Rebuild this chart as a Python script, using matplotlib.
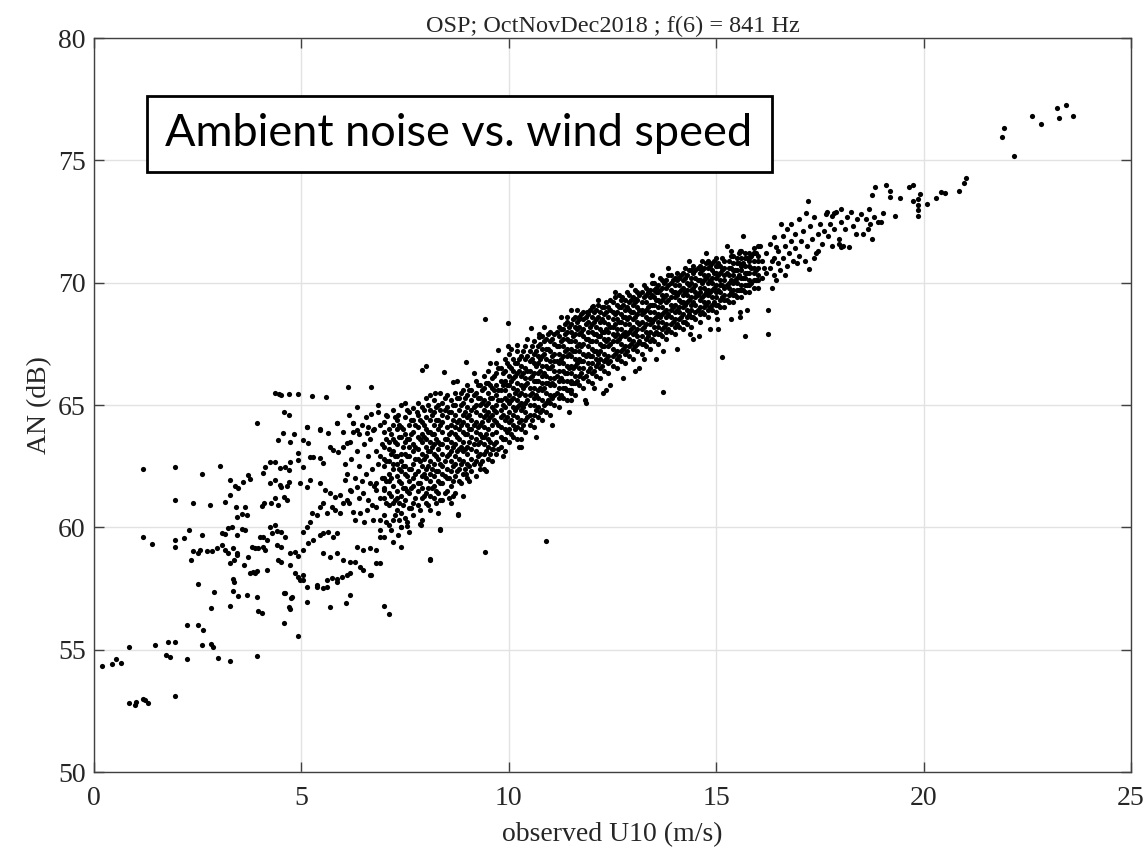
import matplotlib
matplotlib.use("Agg")
import matplotlib.pyplot as plt
from matplotlib.patches import Rectangle

# ---------------- data ----------------
# calm winds (U10 < 2 m/s): (U10, AN)
calm_pts = [(0.2,54.35),(0.43,54.4),(0.53,54.6),(0.64,54.45),(0.85,55.1),(0.85,52.8),
            (1.0,52.75),(1.02,52.85),(1.18,53.0),(1.24,52.95),(1.3,52.8),(1.95,53.1),
            (1.17,62.4),(1.95,62.45),(1.95,61.1),(1.17,59.6),(1.4,59.3),(1.95,59.5),
            (1.95,59.2),(1.46,55.2),(1.78,55.3),(1.95,55.3),(1.73,54.8),(1.83,54.7)]

# light winds (2-7 m/s), scattered cloud
light_pts = [(2.23,54.6),(2.23,56.0),(2.5,56.0),(2.62,55.8),(2.6,55.2),(2.83,55.22),(2.87,55.1),
             (2.99,54.65),(3.27,54.55),(3.93,54.75),(4.93,55.55),(4.59,56.1),(2.5,57.7),(2.9,57.35),
             (2.83,56.7),(3.27,56.8),(3.95,56.6),(4.05,56.5),(4.7,56.75),(4.72,56.65),(4.76,57.1),
             (4.59,57.3),(5.14,56.95),(5.69,56.75),(6.07,56.9),(7.0,56.8),(7.12,56.45),
             (2.29,59.89),(2.18,59.55),(2.39,61.01),(2.61,62.17),(2.61,59.69),(2.34,58.67),(2.39,59.05),
             (2.5,58.96),(2.56,59.07),(2.73,59.05),(2.84,59.05),(2.96,59.14),(3.08,59.28),(3.16,59.07),
             (3.24,58.96),(3.36,59.14),(3.44,58.94),(2.8,60.91),(3.04,62.52),(3.16,61.05),(3.28,61.32),
             (3.28,61.93),(3.4,61.69),(3.48,61.59),(3.6,61.87),(3.72,62.14),(3.76,61.96),(3.08,59.75),
             (3.16,59.73),(3.24,59.96),(3.32,60.03),(3.44,59.69),(3.56,59.93),(3.64,59.89),(3.44,60.44),
             (3.56,60.54),(3.68,60.5),(3.42,60.84),(3.64,60.84),(3.28,58.53),(3.38,58.66),(3.44,58.87),
             (3.62,58.46),(3.72,58.8),(3.84,58.19),(3.76,58.12),(3.92,58.23),(3.36,57.89),(3.38,57.78),
             (3.36,57.41),(3.48,57.21),(3.68,57.23),(3.92,57.17),(3.8,59.21),(3.88,59.14),(3.96,59.14),
             (4.08,59.21),(4.12,59.07),(4.0,59.62),(4.08,59.62),(4.16,59.48),(4.28,59.75),(4.24,60.03),
             (4.36,60.1),(4.4,59.86),(4.52,59.82),(4.04,60.87),(4.1,60.98),(4.26,60.98),(4.36,61.18),
             (4.44,60.91),(4.57,61.23),(4.65,61.12),(4.52,61.66),(4.65,61.69),(4.69,61.87),(4.24,61.8),
             (4.36,61.93),(4.48,61.73),(4.12,62.45),(4.24,62.68),(4.36,62.68),(4.48,62.41),(4.6,62.45),
             (4.73,62.68),(4.69,62.34),(4.08,62.21),(4.44,63.57),(4.73,63.5),(4.56,63.84),(4.81,63.81),
             (5.05,63.57),(5.17,63.43),(5.13,64.11),(5.45,63.98),(5.65,63.84),(5.85,64.25),(6.01,63.91),
             (6.25,64.25),(6.33,63.98),(6.57,63.84),(6.73,63.98),(4.93,63.02),(4.93,62.75),(5.05,62.48),
             (5.21,62.89),(5.29,62.86),(5.45,62.82),(5.53,62.61),(5.69,63.3),(5.77,63.16),(5.89,63.09),
             (6.01,63.3),(6.09,63.43),(6.17,63.5),(4.4,59.28),(4.52,59.21),(4.6,59.62),(4.73,58.94),
             (4.85,59.0),(4.93,58.84),(5.05,59.07),(5.17,59.35),(5.29,59.48),(5.45,59.69),(5.53,59.75),
             (5.65,59.82),(5.77,59.62),(5.85,59.75),(4.52,58.6),(4.44,58.66),(4.73,58.46),(4.85,58.12),
             (4.93,57.98),(5.05,57.85),(5.13,57.57),(5.37,57.64),(5.53,57.51),(5.61,57.85),(5.73,57.91),
             (5.85,57.78),(5.97,57.98),(6.09,58.05),(6.17,58.12),(6.29,58.6),(6.41,58.39),(6.49,58.26),
             (6.65,58.05),(6.81,58.53),(5.05,59.82),(5.14,60.03),(5.21,60.23),(5.25,60.57),(5.37,60.5),
             (5.45,60.84),(5.53,60.98),(5.61,60.57),(5.73,60.84),(5.81,60.71),(5.93,60.57),(6.01,60.98),
             (6.09,61.12),(6.25,60.64),(6.41,60.57),(6.57,60.71),(6.73,60.3),(6.81,60.84),(6.9,60.3),
             (4.97,61.8),(5.13,61.66),(5.21,61.93),(5.45,61.8),(5.57,61.53),(5.69,61.39),(5.81,61.25),
             (5.93,61.32),(6.05,61.93),(6.17,61.53),(6.33,61.66),(6.49,61.39),(6.65,61.8),(6.81,61.53),
             (6.98,61.53),(5.53,58.94),(5.69,58.8),(5.85,58.94),(6.01,58.67),(6.17,58.6),(6.33,59.21),
             (6.49,59.07),(6.65,59.14),(6.81,59.07),(6.9,59.62),(6.9,59.89),
             (6.1,62.2),(6.2,62.8),(6.3,62.0),(6.35,63.1),(6.4,62.5),(6.45,61.9),(6.5,63.4),(6.55,62.2),
             (6.6,62.9),(6.65,63.6),(6.7,62.4),(6.75,61.7),(6.8,63.1),(6.85,62.6),(6.9,64.2),(6.95,62.0),
             (6.5,60.2),(6.6,61.1),(6.7,60.9),(6.8,61.8),(6.9,61.2),(6.2,61.5),(6.3,60.3),(6.4,63.8),
             (6.55,64.5),(6.75,64.0),(6.85,64.7),(6.05,62.6),(6.15,61.0),(6.25,63.9),(6.45,64.2),
             (6.95,63.4),(6.6,64.1),(6.9,62.9),(6.4,61.2),(6.15,64.6),(6.85,65.0),(6.35,64.9),
             (4.37,65.5),(4.45,65.45),(4.5,65.4),(4.71,65.45),(4.93,65.47),(5.25,65.38),(5.59,65.34),
             (6.13,65.72),(6.68,65.75),(4.58,64.7),(4.71,64.59),(3.94,64.25),(5.85,64.28),(5.14,64.11),
             (5.45,64.0),(6.25,64.25),(6.68,64.63),(6.68,58.05),(6.17,57.23),(5.85,57.89),(5.61,57.57),
             (5.37,57.57),(5.05,58.05),(4.97,57.85),(4.77,57.16),(4.6,57.3),(4.16,58.25),(3.88,58.12)]

# dense band, 7-16 m/s: one list of AN values per U10 column
band_u10 = [7.0,7.1,7.2,7.3,7.4,7.5,7.6,7.7,7.8,7.9,8.0,8.1,8.2,8.3,8.4,8.5,8.6,8.7,8.8,8.9,
            9.0,9.1,9.2,9.3,9.4,9.5,9.6,9.7,9.8,9.9,10.0,10.1,10.2,10.3,10.4,10.5,10.6,10.7,10.8,10.9,
            11.0,11.1,11.2,11.3,11.4,11.5,11.6,11.7,11.8,11.9,12.0,12.1,12.2,12.3,12.4,12.5,12.6,12.7,
            12.8,12.9,13.0,13.1,13.2,13.3,13.4,13.5,13.6,13.7,13.8,13.9,14.0,14.1,14.2,14.3,14.4,14.5,
            14.6,14.7,14.8,14.9,15.0,15.1,15.2,15.3,15.4,15.5,15.6,15.7,15.8,15.9,16.0]
band_an = [
    [59.6,60.5,61.2,61.6,62.0,62.5,62.8,63.3,63.9,64.3],
    [60.1,60.9,61.4,61.9,62.2,62.7,63.2,63.5,64.0],
    [59.4,60.3,61.0,61.7,62.4,62.6,63.1,63.6,64.2,64.8],
    [60.7,61.2,61.5,62.1,62.6,62.9,63.4,64.0,64.4],
    [60.0,60.6,61.3,61.8,62.3,62.7,63.0,63.7,64.1,65.0],
    [60.4,61.1,61.6,62.2,62.5,63.0,63.5,63.8,64.5],
    [59.8,60.8,61.4,61.9,62.4,62.9,63.3,63.6,64.2,64.7],
    [60.5,61.0,61.7,62.0,62.6,63.1,63.4,63.9,64.4],
    [60.9,61.5,61.8,62.3,62.8,63.2,63.7,64.1,64.6,65.1],
    [60.3,61.2,61.6,62.1,62.5,63.0,63.5,63.8,64.3,64.9],
    [61.0,61.4,62.0,62.4,62.9,63.3,63.6,64.0,64.5],
    [60.7,61.3,61.9,62.2,62.7,63.1,63.5,63.9,64.4,64.8],
    [61.2,61.7,62.1,62.6,63.0,63.4,63.8,64.2,64.7,65.2],
    [60.6,61.4,61.9,62.3,62.8,63.2,63.5,64.0,64.4,65.0],
    [61.1,61.8,62.2,62.5,63.0,63.4,63.9,64.3,64.6,65.1],
    [61.5,62.0,62.4,62.9,63.3,63.6,64.1,64.5,64.9,65.4],
    [61.0,61.7,62.3,62.7,63.1,63.5,63.9,64.2,64.7,65.2],
    [61.4,62.1,62.6,62.9,63.4,63.8,64.1,64.6,65.0,65.5],
    [61.9,62.4,62.8,63.2,63.6,64.0,64.4,64.8,65.3],
    [61.3,62.2,62.7,63.1,63.5,63.9,64.3,64.6,65.1,65.6],
    [62.0,62.6,63.0,63.3,63.8,64.2,64.5,64.9,65.4,65.8],
    [62.3,62.8,63.2,63.7,64.0,64.4,64.8,65.2,65.6],
    [62.1,62.7,63.1,63.6,63.9,64.3,64.7,65.0,65.5,66.0],
    [62.6,63.0,63.5,63.8,64.2,64.6,65.0,65.3,65.8],
    [62.4,63.0,63.4,63.7,64.1,64.5,64.8,65.2,65.7,66.2],
    [62.8,63.3,63.6,64.0,64.4,64.7,65.1,65.5,65.9,66.4],
    [62.7,63.2,63.8,64.2,64.6,64.9,65.3,65.7,66.1],
    [63.0,63.5,63.9,64.3,64.7,65.0,65.4,65.8,66.3,66.7],
    [63.3,63.7,64.1,64.5,64.8,65.2,65.6,66.0,66.5],
    [63.1,63.6,64.0,64.4,64.9,65.3,65.6,66.0,66.4,66.9],
    [63.5,64.0,64.3,64.7,65.1,65.4,65.8,66.2,66.6,67.1],
    [63.7,64.2,64.6,64.9,65.3,65.7,66.1,66.4,66.9],
    [63.6,64.1,64.5,64.9,65.2,65.6,65.9,66.3,66.7,67.2],
    [64.0,64.4,64.8,65.1,65.5,65.8,66.2,66.6,67.0],
    [63.9,64.4,64.7,65.1,65.4,65.8,66.1,66.5,66.9,67.4],
    [64.2,64.6,65.0,65.4,65.7,66.1,66.4,66.8,67.2],
    [64.1,64.6,65.0,65.3,65.7,66.0,66.3,66.7,67.1,67.6],
    [64.5,64.9,65.3,65.6,66.0,66.3,66.7,67.0,67.4],
    [64.4,64.8,65.2,65.6,65.9,66.2,66.6,67.0,67.3,67.8],
    [64.7,65.1,65.5,65.9,66.2,66.6,66.9,67.3,67.7],
    [64.6,65.1,65.4,65.8,66.1,66.5,66.8,67.2,67.6,68.0],
    [65.0,65.4,65.8,66.1,66.4,66.8,67.1,67.5,67.9],
    [64.9,65.3,65.7,66.0,66.4,66.7,67.1,67.4,67.8,68.2],
    [65.3,65.7,66.0,66.4,66.7,67.0,67.4,67.7,68.1],
    [65.2,65.6,66.0,66.3,66.6,67.0,67.3,67.7,68.0,68.4],
    [65.5,65.9,66.3,66.6,67.0,67.3,67.6,68.0,68.3],
    [65.4,65.9,66.2,66.6,66.9,67.2,67.6,67.9,68.2,68.6],
    [65.8,66.2,66.5,66.9,67.2,67.5,67.9,68.2,68.5],
    [65.7,66.1,66.5,66.8,67.1,67.5,67.8,68.1,68.5,68.8],
    [66.0,66.4,66.7,67.1,67.4,67.7,68.0,68.4,68.7],
    [65.9,66.3,66.7,67.0,67.3,67.6,68.0,68.3,68.6,69.0],
    [66.2,66.6,66.9,67.2,67.6,67.9,68.2,68.5,68.9],
    [66.1,66.5,66.9,67.2,67.5,67.8,68.1,68.4,68.8],
    [66.4,66.8,67.1,67.4,67.7,68.0,68.4,68.7,69.0],
    [66.3,66.7,67.0,67.4,67.7,68.0,68.3,68.6,69.0],
    [66.6,67.0,67.3,67.6,67.9,68.2,68.5,68.8,69.2],
    [66.5,66.9,67.2,67.6,67.9,68.1,68.5,68.8,69.1],
    [66.8,67.2,67.5,67.8,68.1,68.4,68.7,69.0,69.3],
    [66.7,67.1,67.4,67.8,68.0,68.3,68.6,68.9,69.3],
    [67.0,67.4,67.7,68.0,68.3,68.6,68.9,69.2,69.5],
    [66.9,67.3,67.6,67.9,68.2,68.5,68.8,69.1,69.4],
    [67.2,67.5,67.8,68.1,68.4,68.7,69.0,69.3,69.6],
    [67.1,67.5,67.8,68.1,68.4,68.7,68.9,69.2,69.6],
    [67.4,67.7,68.0,68.3,68.6,68.9,69.2,69.5,69.8],
    [67.3,67.6,68.0,68.3,68.5,68.8,69.1,69.4,69.7],
    [67.6,67.9,68.2,68.5,68.8,69.1,69.4,69.7,70.0],
    [67.5,67.9,68.2,68.4,68.7,69.0,69.3,69.6,69.9],
    [67.8,68.1,68.4,68.7,69.0,69.3,69.5,69.8,70.1],
    [67.7,68.0,68.3,68.6,68.9,69.2,69.5,69.8,70.1],
    [68.0,68.3,68.6,68.9,69.1,69.4,69.7,70.0,70.3],
    [67.9,68.2,68.5,68.8,69.1,69.4,69.6,69.9,70.2],
    [68.2,68.5,68.8,69.0,69.3,69.6,69.9,70.2],
    [68.1,68.4,68.7,69.0,69.2,69.5,69.8,70.1,70.4],
    [68.3,68.6,68.9,69.2,69.5,69.7,70.0,70.3],
    [68.2,68.6,68.9,69.1,69.4,69.7,70.0,70.2,70.5],
    [68.5,68.8,69.1,69.4,69.6,69.9,70.2,70.5],
    [68.4,68.7,69.0,69.3,69.6,69.8,70.1,70.4,70.7],
    [68.7,69.0,69.2,69.5,69.8,70.1,70.3,70.6],
    [68.6,68.9,69.2,69.5,69.7,70.0,70.3,70.6,70.9],
    [68.9,69.1,69.4,69.7,70.0,70.2,70.5,70.8],
    [68.8,69.1,69.4,69.6,69.9,70.2,70.4,70.7,71.0],
    [69.0,69.3,69.6,69.9,70.1,70.4,70.7],
    [69.0,69.3,69.5,69.8,70.1,70.3,70.6,70.9],
    [69.2,69.5,69.8,70.0,70.3,70.6,70.9],
    [69.2,69.5,69.7,70.0,70.3,70.5,70.8,71.1],
    [69.4,69.7,70.0,70.2,70.5,70.8,71.0],
    [69.4,69.7,69.9,70.2,70.5,70.7,71.0,71.3],
    [69.6,69.9,70.2,70.4,70.7,71.0,71.2],
    [69.6,69.9,70.1,70.4,70.7,70.9,71.2],
    [69.8,70.1,70.4,70.6,70.9,71.2,71.4],
    [69.8,70.1,70.3,70.6,70.9,71.1,71.5],
]

# dense band, in-between U10 columns
band2_u10 = [7.05,7.15,7.25,7.35,7.45,7.55,7.65,7.75,7.85,7.95,8.05,8.15,8.25,8.35,8.45,8.55,8.65,
             8.75,8.85,8.95,9.05,9.15,9.25,9.35,9.45,9.55,9.65,9.75,9.85,9.95,10.05,10.15,10.25,10.35,
             10.45,10.55,10.65,10.75,10.85,10.95,11.05,11.15,11.25,11.35,11.45,11.55,11.65,11.75,11.85,
             11.95,12.05,12.15,12.25,12.35,12.45,12.55,12.65,12.75,12.85,12.95,13.05,13.15,13.25,13.35,
             13.45,13.55,13.65,13.75,13.85,13.95,14.05,14.15,14.25,14.35,14.45,14.55,14.65,14.75,14.85,
             14.95,15.05,15.15,15.25,15.35,15.45,15.55,15.65,15.75,15.85,15.95]
band2_an = [
    [60.2,61.0,61.9,62.7,63.6,64.6],[59.9,61.3,62.0,63.0,63.8],[60.5,61.1,62.9,63.5,64.5],
    [60.3,61.0,61.9,62.4,63.7,64.2],[60.9,61.6,62.5,63.3,64.0],[60.2,61.5,62.1,62.9,63.6,64.8],
    [60.8,61.6,62.4,63.8,64.4],[61.2,62.2,62.8,63.3,64.2],[60.7,61.8,62.7,63.6,64.4],
    [61.3,62.2,62.8,63.7,64.2,64.8],[60.9,61.6,62.5,63.1,63.9,65.0],[61.6,62.4,63.3,63.8,64.6],
    [61.5,62.3,62.9,63.6,64.4,64.9],[61.8,62.6,63.4,64.2,64.8],[61.4,62.1,62.7,63.6,64.8,65.3],
    [61.2,62.0,63.0,63.8,64.7],[61.9,62.5,63.3,64.4,65.0],[62.3,63.1,63.7,64.3,65.3],
    [61.8,62.6,63.3,64.2,65.0,65.5],[62.4,63.2,63.8,64.7,65.3],[62.5,63.5,64.0,64.6,65.6],
    [62.6,63.4,64.2,64.9,65.4],[62.9,63.4,64.1,65.3,65.8],[62.7,63.7,64.3,65.1,65.6],
    [63.1,63.8,64.6,65.0,65.9],[63.0,63.5,64.5,65.3,65.8],[63.4,64.4,64.8,65.6,66.2],
    [63.2,64.2,65.2,65.6,66.5],[63.6,64.6,65.0,65.8,66.3],[63.9,64.5,65.2,65.8,66.7],
    [63.8,64.4,65.2,66.0,66.5],[64.0,64.8,65.5,66.2,66.7],[64.3,65.0,65.4,66.4,66.9],
    [64.2,64.9,65.7,66.3,67.2],[64.5,65.2,65.9,66.4,67.0],[64.4,65.5,66.2,66.9,67.4],
    [64.8,65.4,66.0,66.6,67.2],[64.7,65.7,66.4,66.9,67.5],[65.0,65.7,66.3,67.1,67.6],
    [65.2,65.9,66.5,67.3,67.9],[65.3,65.9,66.6,67.0,67.7],[65.5,66.2,66.8,67.4,68.0],
    [65.4,66.1,66.9,67.6,68.1],[65.7,66.3,67.2,67.9,68.3],[65.6,66.5,67.1,67.6,68.2],
    [65.9,66.5,67.2,67.8,68.5],[66.0,66.7,67.4,68.1,68.4],[66.3,66.8,67.4,68.0,68.7],
    [66.2,67.0,67.7,68.3,68.6],[66.5,67.0,67.6,68.2,68.9],[66.4,67.2,67.9,68.4,68.8],
    [66.7,67.1,67.8,68.6,69.1],[66.6,67.4,68.0,68.5,69.0],[66.9,67.6,68.1,68.8,69.2],
    [66.8,67.5,68.2,68.9,69.3],[67.1,67.8,68.3,68.7,69.4],[67.0,67.7,68.4,69.0,69.5],
    [67.3,67.9,68.6,69.1],[67.2,67.9,68.5,69.0,69.6],[67.5,68.1,68.8,69.3],
    [67.4,68.0,68.6,69.2,69.7],[67.6,68.3,68.9,69.5],[67.5,68.2,68.8,69.4,69.9],
    [67.8,68.5,69.0,69.6],[67.7,68.4,69.1,69.5,70.0],[68.0,68.6,69.3,69.8],
    [67.9,68.6,69.2,69.7,70.2],[68.2,68.8,69.4,70.0],[68.1,68.7,69.3,69.9,70.3],
    [68.4,69.0,69.6,70.1],[68.3,68.9,69.5,70.1,70.4],[68.6,69.2,69.7,70.3],
    [68.4,69.1,69.6,70.2,70.6],[68.7,69.3,69.9,70.5],[68.6,69.2,69.8,70.4,70.7],
    [68.9,69.5,70.1,70.6],[68.8,69.4,70.0,70.5,70.9],[69.1,69.6,70.2,70.8],
    [69.0,69.6,70.1,70.7],[69.2,69.8,70.4,70.9],[69.1,69.7,70.3,70.8],
    [69.4,69.9,70.5,71.0],[69.3,69.9,70.4],[69.6,70.1,70.6,71.1],[69.5,70.1,70.5],
    [69.7,70.3,70.8,71.2],[69.7,70.2,70.8],[69.9,70.4,71.0],[70.0,70.6,71.1],[70.1,70.5,71.2],
]

# points along the fuzzy edges of the band (7-16 m/s)
edge_pts = [(7.5,65.1),(7.9,66.43),(8.0,66.59),(8.44,66.36),(8.98,66.77),(9.75,67.25),(9.97,67.4),
            (10.2,67.45),(8.66,65.95),(8.0,65.3),(8.1,65.4),(8.22,65.5),(9.43,68.53),(9.97,68.36),
            (10.53,68.16),(10.74,67.9),(10.74,67.76),(11.4,68.6),(11.51,68.9),(11.69,68.6),(11.89,68.8),
            (12.04,69.05),(12.72,69.42),(13.06,69.35),(13.39,69.6),(13.54,69.6),(14.07,70.2),(14.59,70.6),
            (14.81,70.85),(15.03,70.7),(15.36,71.3),(15.58,71.3),(15.82,71.03),(15.92,71.2),
            (13.71,65.53),(13.04,66.4),(13.27,66.9),(13.71,67.2),(15.14,66.95),(15.7,67.84),(15.04,68.12),
            (14.59,67.83),(14.37,67.92),(15.57,68.8),(15.57,68.6),(15.03,68.5),(12.28,65.5),(12.06,65.68),
            (12.44,65.8),(11.51,65.2),(11.84,65.2),(11.51,65.6),(11.51,66.0),(10.29,63.6),(10.29,63.3),
            (9.63,63.2),(9.87,63.6),(9.31,62.4),(8.98,62.2),(8.77,60.5),(8.33,61.1),(8.33,59.9),(7.88,60.1),
            (9.42,59.0),(8.1,58.7),(10.9,59.45),(7.39,59.2),(7.34,59.7),(7.54,60.07),(7.4,60.0),(6.9,58.55),
            (8.11,58.65),(8.78,60.53),(7.87,60.12),(8.33,59.92),(7.06,64.55),(7.34,64.59),(7.68,64.86),
            (7.78,64.72),
            (8.25,61.0),(8.65,61.3),(9.05,61.9),(9.45,62.3),(9.85,62.9),(10.25,63.3),(10.65,63.7),
            (11.05,64.2),(11.45,64.7),(11.85,65.1),(12.35,65.6),(12.75,66.1),(13.15,66.5),(13.55,66.9),
            (14.05,67.3),(14.45,67.7),(14.85,68.1),(15.35,68.5),(15.75,68.9),
            (8.35,65.5),(8.75,66.0),(9.15,66.3),(9.55,66.7),(10.05,67.3),(10.45,67.7),(10.85,68.2),
            (11.25,68.6),(11.65,68.9),(12.15,69.3),(12.55,69.6),(12.95,69.9),(13.45,70.3),(13.85,70.6),
            (14.35,70.9),(14.75,71.2),(15.25,71.5),(15.65,71.9)]

# strong winds (16-21 m/s)
strong_pts = [(16.1,70.2),(16.1,70.9),(16.2,70.4),(16.2,71.2),(16.25,68.9),(16.25,67.9),(16.3,70.6),
              (16.3,71.6),(16.35,69.8),(16.4,70.3),(16.4,71.0),(16.45,71.45),(16.5,70.8),(16.5,71.3),
              (16.55,70.5),(16.6,71.0),(16.6,71.9),(16.65,71.5),(16.7,70.7),(16.7,72.2),(16.75,71.2),
              (16.8,71.7),(16.8,72.4),(16.85,70.9),(16.9,71.4),(16.9,72.0),(17.0,71.1),(17.0,72.6),
              (17.05,71.7),(17.1,72.1),(17.15,70.9),(17.2,71.5),(17.22,73.33),(17.24,70.55),(17.25,72.3),
              (17.3,71.8),(17.35,72.7),(17.4,71.2),(17.45,71.3),(17.45,72.0),(17.5,72.4),(17.55,71.6),
              (17.6,72.1),(17.65,72.8),(17.7,71.9),(17.75,72.4),(17.8,71.5),(17.85,72.2),(17.9,72.9),
              (17.95,71.8),(18.0,72.5),(18.0,73.0),(18.05,71.5),(18.1,72.2),(18.15,72.7),(18.2,71.47),
              (18.25,72.9),(18.3,72.3),(18.38,72.0),(18.4,72.6),(18.5,72.8),(18.55,72.0),(18.6,72.6),
              (18.65,72.18),(18.69,73.0),(18.7,72.4),(18.76,71.8),(18.76,73.6),(18.8,72.7),(18.82,73.9),
              (18.9,72.5),(18.98,72.5),(19.02,72.83),(19.09,73.98),(19.2,73.74),(19.2,73.51),(19.31,72.72),
              (19.42,73.45),(19.65,73.9),(19.75,74.0),(19.75,73.33),(19.86,73.43),(19.86,73.17),
              (19.86,72.97),(19.86,72.73),(19.92,73.62),(20.08,73.22),(20.31,73.45),(20.41,73.69),
              (20.51,73.65),(20.85,73.76),(20.97,74.06),(21.02,74.26),(17.66,72.9),(17.83,72.84),
              (17.8,72.73),(17.16,72.84),(16.57,72.4),(16.4,71.85),(17.97,71.57),(18.0,71.44),
              (16.15,70.6),(16.45,70.1),(16.95,70.8),(17.35,71.0),(16.05,71.5),(16.35,70.9),(16.65,70.3)]

# very strong winds (> 21 m/s)
gale_pts = [(21.9,75.95),(21.95,76.33),(22.17,75.17),(22.61,76.8),(22.83,76.47),(23.22,77.14),
            (23.27,76.74),(23.44,77.27),(23.6,76.83)]

title_text = "OSP; OctNovDec2018 ; f(6) = 841 Hz"
box_text = "Ambient noise vs. wind speed"
x_ticks = [0, 5, 10, 15, 20, 25]
y_ticks = [50, 55, 60, 65, 70, 75, 80]

# ---------------- assemble ----------------
u10, an = [], []
for pts in (calm_pts, light_pts, edge_pts, strong_pts, gale_pts):
    for x, y in pts:
        u10.append(x)
        an.append(y)
for xs, yss in ((band_u10, band_an), (band2_u10, band2_an)):
    for x, ys in zip(xs, yss):
        for y in ys:
            u10.append(x)
            an.append(y)

# ---------------- plot ----------------
plt.rcParams['font.family'] = ['Liberation Serif', 'DejaVu Serif']
fig = plt.figure(figsize=(11.48, 8.56), dpi=100)
ax = fig.add_axes([94/1148, 84/856, 1037/1148, 734/856])

ax.scatter(u10, an, s=14, c='k', linewidths=0, zorder=3)

ax.set_xlim(0, 25)
ax.set_ylim(50, 80)
ax.set_xticks(x_ticks)
ax.set_yticks(y_ticks)
ax.grid(True, color='#e2e2e2', linewidth=1.0, zorder=0)
ax.set_axisbelow(True)
for sp in ax.spines.values():
    sp.set_color('#404040')
    sp.set_linewidth(1.0)
ax.tick_params(direction='in', length=7, width=1.0, color='#404040',
               top=True, right=True, labelsize=20, labelcolor='#262626')
ax.tick_params(axis='x', pad=10)
ax.tick_params(axis='y', pad=6)

ax.set_title(title_text, fontsize=17.5, pad=4, color='#262626')
ax.set_xlabel("observed U10 (m/s)", fontsize=20, labelpad=8, color='#262626')
ax.set_ylabel("AN (dB)", fontsize=20, labelpad=4, color='#262626')

# annotation box
bx0, bx1 = (147-94)/1037, (772-94)/1037
by0, by1 = (772-172)/734, (772-96)/734
ax.add_patch(Rectangle((bx0, by0), bx1-bx0, by1-by0, transform=ax.transAxes,
                       facecolor='white', edgecolor='black', linewidth=2.0, zorder=5))
ax.text((165-94)/1037, (by0+by1)/2, box_text, transform=ax.transAxes,
        ha='left', va='center', fontsize=32.5, family=['Lato', 'DejaVu Sans'], zorder=6)

fig.savefig("out.png", dpi=100)
